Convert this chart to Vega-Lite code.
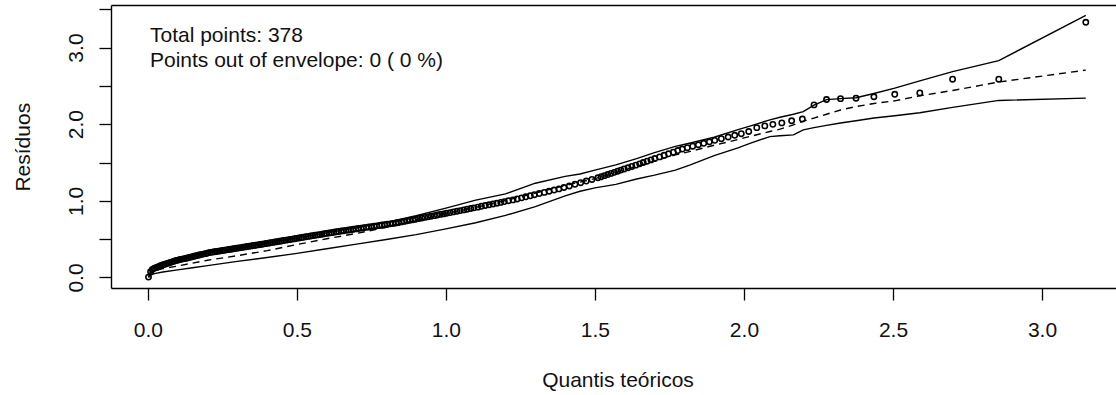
{
"$schema": "https://vega.github.io/schema/vega-lite/v6.json",
"autosize": {"type": "none"},
"padding": {"left": 111, "top": 5, "right": 0, "bottom": 107},
"width": 1005,
"height": 283,
"background": "white",
"config": {
  "view": {"stroke": null},
  "axis": {"grid": false, "domainColor": "#000", "tickColor": "#000", "labelColor": "#111", "titleColor": "#111", "labelFont": "Liberation Sans", "titleFont": "Liberation Sans", "labelFontSize": 21, "titleFontSize": 21, "titleFontWeight": "normal", "tickSize": 12, "domainWidth": 1.4, "tickWidth": 1.3}
},
"datasets": {
"pts": [
{"x":0.002,"y":0.005},{"x":0.009,"y":0.075},{"x":0.015,"y":0.105},{"x":0.022,"y":0.122},{"x":0.029,"y":0.132},{"x":0.035,"y":0.142},{"x":0.042,"y":0.153},{"x":0.049,"y":0.163},{"x":0.055,"y":0.171},{"x":0.062,"y":0.180},
{"x":0.069,"y":0.188},{"x":0.075,"y":0.196},{"x":0.082,"y":0.204},{"x":0.088,"y":0.213},{"x":0.095,"y":0.221},{"x":0.102,"y":0.227},{"x":0.108,"y":0.234},{"x":0.115,"y":0.240},{"x":0.122,"y":0.246},{"x":0.129,"y":0.252},
{"x":0.135,"y":0.258},{"x":0.142,"y":0.265},{"x":0.149,"y":0.271},{"x":0.155,"y":0.277},{"x":0.162,"y":0.283},{"x":0.169,"y":0.290},{"x":0.175,"y":0.296},{"x":0.182,"y":0.302},{"x":0.189,"y":0.308},{"x":0.196,"y":0.314},
{"x":0.202,"y":0.321},{"x":0.209,"y":0.327},{"x":0.216,"y":0.331},{"x":0.223,"y":0.335},{"x":0.230,"y":0.339},{"x":0.237,"y":0.344},{"x":0.243,"y":0.348},{"x":0.250,"y":0.352},{"x":0.257,"y":0.356},{"x":0.264,"y":0.361},
{"x":0.271,"y":0.365},{"x":0.278,"y":0.369},{"x":0.284,"y":0.373},{"x":0.291,"y":0.378},{"x":0.298,"y":0.382},{"x":0.305,"y":0.386},{"x":0.312,"y":0.390},{"x":0.319,"y":0.395},{"x":0.326,"y":0.399},{"x":0.333,"y":0.404},
{"x":0.340,"y":0.408},{"x":0.347,"y":0.412},{"x":0.354,"y":0.417},{"x":0.361,"y":0.421},{"x":0.368,"y":0.425},{"x":0.376,"y":0.430},{"x":0.383,"y":0.434},{"x":0.390,"y":0.439},{"x":0.397,"y":0.444},{"x":0.404,"y":0.448},
{"x":0.411,"y":0.453},{"x":0.419,"y":0.458},{"x":0.426,"y":0.463},{"x":0.433,"y":0.467},{"x":0.441,"y":0.472},{"x":0.448,"y":0.477},{"x":0.455,"y":0.482},{"x":0.463,"y":0.487},{"x":0.470,"y":0.491},{"x":0.477,"y":0.496},
{"x":0.485,"y":0.501},{"x":0.492,"y":0.506},{"x":0.499,"y":0.511},{"x":0.507,"y":0.516},{"x":0.515,"y":0.521},{"x":0.522,"y":0.526},{"x":0.530,"y":0.531},{"x":0.538,"y":0.536},{"x":0.546,"y":0.541},{"x":0.553,"y":0.546},
{"x":0.561,"y":0.551},{"x":0.569,"y":0.556},{"x":0.576,"y":0.560},{"x":0.584,"y":0.565},{"x":0.592,"y":0.570},{"x":0.599,"y":0.575},{"x":0.608,"y":0.580},{"x":0.616,"y":0.585},{"x":0.624,"y":0.590},{"x":0.632,"y":0.596},
{"x":0.640,"y":0.601},{"x":0.649,"y":0.606},{"x":0.657,"y":0.610},{"x":0.665,"y":0.615},{"x":0.673,"y":0.620},{"x":0.681,"y":0.624},{"x":0.689,"y":0.629},{"x":0.698,"y":0.634},{"x":0.706,"y":0.639},{"x":0.715,"y":0.644},
{"x":0.724,"y":0.649},{"x":0.733,"y":0.654},{"x":0.741,"y":0.659},{"x":0.750,"y":0.664},{"x":0.759,"y":0.669},{"x":0.768,"y":0.674},{"x":0.777,"y":0.679},{"x":0.785,"y":0.684},{"x":0.794,"y":0.689},{"x":0.803,"y":0.694},
{"x":0.813,"y":0.700},{"x":0.822,"y":0.705},{"x":0.832,"y":0.711},{"x":0.841,"y":0.717},{"x":0.851,"y":0.725},{"x":0.860,"y":0.732},{"x":0.870,"y":0.739},{"x":0.879,"y":0.746},{"x":0.889,"y":0.753},{"x":0.898,"y":0.760},
{"x":0.908,"y":0.768},{"x":0.919,"y":0.776},{"x":0.929,"y":0.784},{"x":0.940,"y":0.791},{"x":0.950,"y":0.799},{"x":0.961,"y":0.807},{"x":0.971,"y":0.815},{"x":0.981,"y":0.823},{"x":0.992,"y":0.830},{"x":1.002,"y":0.838},
{"x":1.014,"y":0.847},{"x":1.025,"y":0.856},{"x":1.037,"y":0.864},{"x":1.048,"y":0.873},{"x":1.060,"y":0.882},{"x":1.071,"y":0.891},{"x":1.083,"y":0.900},{"x":1.094,"y":0.909},{"x":1.107,"y":0.918},{"x":1.119,"y":0.929},
{"x":1.132,"y":0.939},{"x":1.145,"y":0.949},{"x":1.158,"y":0.959},{"x":1.171,"y":0.969},{"x":1.184,"y":0.980},{"x":1.196,"y":0.990},{"x":1.210,"y":1.001},{"x":1.225,"y":1.012},{"x":1.239,"y":1.025},{"x":1.254,"y":1.039},
{"x":1.268,"y":1.053},{"x":1.283,"y":1.066},{"x":1.297,"y":1.080},{"x":1.313,"y":1.095},{"x":1.330,"y":1.110},{"x":1.346,"y":1.126},{"x":1.363,"y":1.141},{"x":1.379,"y":1.156},{"x":1.396,"y":1.174},{"x":1.414,"y":1.194},
{"x":1.433,"y":1.216},{"x":1.452,"y":1.237},{"x":1.471,"y":1.258},{"x":1.490,"y":1.279},{"x":1.510,"y":1.301},{"x":1.521,"y":1.314},{"x":1.532,"y":1.329},{"x":1.543,"y":1.343},{"x":1.554,"y":1.358},{"x":1.565,"y":1.372},
{"x":1.576,"y":1.387},{"x":1.587,"y":1.401},{"x":1.598,"y":1.416},{"x":1.611,"y":1.432},{"x":1.624,"y":1.449},{"x":1.637,"y":1.466},{"x":1.650,"y":1.483},{"x":1.662,"y":1.500},{"x":1.675,"y":1.517},{"x":1.688,"y":1.534},
{"x":1.701,"y":1.552},{"x":1.717,"y":1.573},{"x":1.732,"y":1.594},{"x":1.747,"y":1.614},{"x":1.763,"y":1.635},{"x":1.778,"y":1.656},{"x":1.793,"y":1.676},{"x":1.810,"y":1.694},{"x":1.828,"y":1.713},{"x":1.847,"y":1.732},
{"x":1.865,"y":1.751},{"x":1.884,"y":1.770},{"x":1.902,"y":1.789},{"x":1.924,"y":1.811},{"x":1.947,"y":1.833},{"x":1.969,"y":1.855},{"x":1.991,"y":1.876},{"x":2.016,"y":1.905},{"x":2.043,"y":1.955},{"x":2.070,"y":1.978},
{"x":2.097,"y":1.998},{"x":2.127,"y":2.017},{"x":2.160,"y":2.045},{"x":2.196,"y":2.067},{"x":2.235,"y":2.252},{"x":2.277,"y":2.322},{"x":2.324,"y":2.333},{"x":2.376,"y":2.339},{"x":2.436,"y":2.358},{"x":2.506,"y":2.390},
{"x":2.590,"y":2.408},{"x":2.700,"y":2.587},{"x":2.855,"y":2.587},{"x":3.147,"y":3.330}
],
"env": [
{"x":0.002,"lower":0.000,"median":0.003,"upper":0.010},
{"x":0.009,"lower":0.030,"median":0.055,"upper":0.085},
{"x":0.022,"lower":0.050,"median":0.085,"upper":0.125},
{"x":0.05,"lower":0.072,"median":0.115,"upper":0.170},
{"x":0.1,"lower":0.100,"median":0.150,"upper":0.225},
{"x":0.15,"lower":0.128,"median":0.188,"upper":0.275},
{"x":0.2,"lower":0.155,"median":0.225,"upper":0.318},
{"x":0.3,"lower":0.210,"median":0.285,"upper":0.385},
{"x":0.4,"lower":0.260,"median":0.350,"upper":0.447},
{"x":0.5,"lower":0.315,"median":0.430,"upper":0.515},
{"x":0.6,"lower":0.375,"median":0.505,"upper":0.582},
{"x":0.7,"lower":0.435,"median":0.575,"upper":0.648},
{"x":0.8,"lower":0.495,"median":0.655,"upper":0.720},
{"x":0.9,"lower":0.560,"median":0.745,"upper":0.805},
{"x":1.0,"lower":0.635,"median":0.835,"upper":0.905},
{"x":1.1,"lower":0.715,"median":0.915,"upper":1.010},
{"x":1.2,"lower":0.810,"median":1.005,"upper":1.090},
{"x":1.3,"lower":0.925,"median":1.100,"upper":1.230},
{"x":1.4,"lower":1.065,"median":1.200,"upper":1.320},
{"x":1.45,"lower":1.125,"median":1.245,"upper":1.350},
{"x":1.5,"lower":1.170,"median":1.290,"upper":1.400},
{"x":1.57,"lower":1.215,"median":1.370,"upper":1.470},
{"x":1.64,"lower":1.285,"median":1.450,"upper":1.550},
{"x":1.7,"lower":1.335,"median":1.520,"upper":1.630},
{"x":1.77,"lower":1.400,"median":1.600,"upper":1.710},
{"x":1.82,"lower":1.470,"median":1.645,"upper":1.755},
{"x":1.9,"lower":1.590,"median":1.725,"upper":1.830},
{"x":1.98,"lower":1.690,"median":1.800,"upper":1.930},
{"x":2.02,"lower":1.750,"median":1.840,"upper":1.975},
{"x":2.087,"lower":1.838,"median":1.905,"upper":2.056},
{"x":2.121,"lower":1.850,"median":1.935,"upper":2.090},
{"x":2.166,"lower":1.860,"median":1.990,"upper":2.130},
{"x":2.199,"lower":1.926,"median":2.040,"upper":2.164},
{"x":2.235,"lower":1.955,"median":2.080,"upper":2.250},
{"x":2.277,"lower":1.985,"median":2.130,"upper":2.320},
{"x":2.324,"lower":2.015,"median":2.185,"upper":2.333},
{"x":2.376,"lower":2.045,"median":2.230,"upper":2.345},
{"x":2.436,"lower":2.080,"median":2.270,"upper":2.400},
{"x":2.506,"lower":2.110,"median":2.305,"upper":2.470},
{"x":2.59,"lower":2.150,"median":2.370,"upper":2.565},
{"x":2.70,"lower":2.220,"median":2.440,"upper":2.686},
{"x":2.855,"lower":2.310,"median":2.550,"upper":2.830},
{"x":3.147,"lower":2.340,"median":2.705,"upper":3.420}
]
},
"layer": [
{
  "data": {"name": "env"},
  "mark": {"type": "line", "color": "#000", "strokeWidth": 1.4},
  "encoding": {
    "x": {"field": "x", "type": "quantitative", "scale": {"domain": [-0.1238, 3.2483], "nice": false, "zero": false}, "axis": null},
    "y": {"field": "lower", "type": "quantitative", "scale": {"domain": [-0.137, 3.555], "nice": false, "zero": false}, "axis": null}
  }
},
{
  "data": {"name": "env"},
  "mark": {"type": "line", "color": "#000", "strokeWidth": 1.4, "strokeDash": [7, 5]},
  "encoding": {
    "x": {"field": "x", "type": "quantitative", "scale": {"domain": [-0.1238, 3.2483], "nice": false, "zero": false}, "axis": null},
    "y": {"field": "median", "type": "quantitative", "scale": {"domain": [-0.137, 3.555], "nice": false, "zero": false}, "axis": null}
  }
},
{
  "data": {"name": "env"},
  "mark": {"type": "line", "color": "#000", "strokeWidth": 1.4},
  "encoding": {
    "x": {"field": "x", "type": "quantitative", "scale": {"domain": [-0.1238, 3.2483], "nice": false, "zero": false}, "axis": null},
    "y": {"field": "upper", "type": "quantitative", "scale": {"domain": [-0.137, 3.555], "nice": false, "zero": false}, "axis": null}
  }
},
{
  "data": {"name": "pts"},
  "mark": {"type": "point", "shape": "circle", "filled": false, "size": 28, "strokeWidth": 1.6, "color": "#000", "opacity": 1},
  "encoding": {
    "x": {"field": "x", "type": "quantitative", "scale": {"domain": [-0.1238, 3.2483], "nice": false, "zero": false},
      "axis": {"orient": "bottom", "values": [0, 0.5, 1, 1.5, 2, 2.5, 3], "format": ".1f", "title": "Quantis teóricos", "labelBaseline": "alphabetic", "labelPadding": 36, "labelFlush": false, "labelOverlap": false, "titleX": 506.5, "titleY": 98, "titleAlign": "center", "titleBaseline": "alphabetic"}},
    "y": {"field": "y", "type": "quantitative", "scale": {"domain": [-0.137, 3.555], "nice": false, "zero": false},
      "axis": {"orient": "left", "values": [0, 0.5, 1, 1.5, 2, 2.5, 3, 3.5], "labelExpr": "datum.value % 1 === 0 ? format(datum.value, '.1f') : ''", "labelAngle": -90, "labelAlign": "center", "labelBaseline": "alphabetic", "labelPadding": 17, "labelOverlap": false, "labelFlush": false, "title": "Resíduos", "titleAngle": -90, "titleX": -82, "titleY": 141.7, "titleAlign": "center", "titleBaseline": "alphabetic"}}
  }
},
{
  "data": {"values": [{}]},
  "mark": {"type": "text", "text": ["Total points: 378", "Points out of envelope: 0 ( 0 %)"], "align": "left", "baseline": "alphabetic", "font": "Liberation Sans", "fontSize": 21, "lineHeight": 25, "color": "#111"},
  "encoding": {
    "x": {"datum": 0.007, "type": "quantitative", "scale": {"domain": [-0.1238, 3.2483], "nice": false, "zero": false},
      "axis": {"orient": "top", "ticks": false, "labels": false, "title": null, "domain": true}},
    "y": {"datum": 3.076, "type": "quantitative", "scale": {"domain": [-0.137, 3.555], "nice": false, "zero": false}, "axis": null}
  }
}
],
"resolve": {"axis": {"x": "independent", "y": "independent"}}
}
